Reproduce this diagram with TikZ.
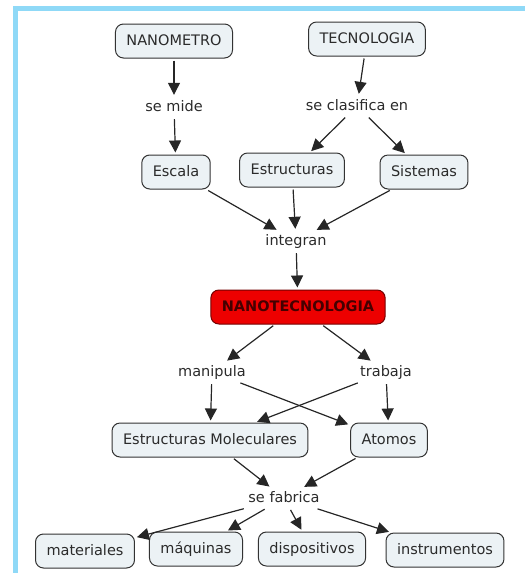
\documentclass[tikz,border=0pt]{standalone}
\usepackage{fontspec}
\setmainfont{DejaVu Sans}
\usepackage{tikz}
\usetikzlibrary{arrows.meta}
\definecolor{frameblue}{rgb}{0.56,0.85,0.97}
\definecolor{boxfill}{rgb}{0.925,0.95,0.96}
\definecolor{boxline}{rgb}{0.2,0.2,0.2}
\definecolor{textgrey}{rgb}{0.17,0.17,0.17}
\definecolor{nanored}{rgb}{0.93,0.0,0.0}
\definecolor{darkred}{rgb}{0.45,0.0,0.0}

\begin{document}
\begin{tikzpicture}[x=1pt,y=-1pt,font=\fontsize{14.5}{17}\selectfont,text=textgrey,
  concept/.style={draw=boxline,fill=boxfill,rounded corners=8pt,line width=1pt,minimum height=34pt,inner xsep=11pt,text height=11pt,text depth=3pt},
  phrase/.style={inner sep=3pt,text height=11pt,text depth=3pt},
  arr/.style={-{Triangle[length=12pt,width=12pt]},line width=1.2pt,draw=black!85,shorten <=2pt,shorten >=2pt}]
\useasboundingbox (0,0) rectangle (525,573);
\fill[frameblue] (13,6) rectangle (525,11);
\fill[frameblue] (13,6) rectangle (18,573);
% top concepts
\node[concept] (nanometro) at (174,41) {NANOMETRO};
\node[concept] (tecnologia) at (367,39) {TECNOLOGIA};
\node[phrase] (semide) at (174,107) {se mide};
\node[phrase] (seclasifica) at (357,106) {se clasifica en};
\node[concept] (escala) at (176,172) {Escala};
\node[concept] (estructuras) at (292,170) {Estructuras};
\node[concept] (sistemas) at (424,172) {Sistemas};
\node[phrase] (integran) at (296,241) {integran};
% central concept
\node[concept,fill=nanored,draw=darkred,text=darkred!60!black,font=\fontsize{14.5}{17}\selectfont\bfseries] (nano) at (298,307) {NANOTECNOLOGIA};
\node[phrase] (manipula) at (212,372) {manipula};
\node[phrase] (trabaja) at (386,372) {trabaja};
\node[concept] (molec) at (210,440) {Estructuras Moleculares};
\node[concept] (atomos) at (389,440) {Atomos};
\node[phrase] (sefabrica) at (284,498) {se fabrica};
% bottom concepts
\node[concept] (materiales) at (85,551) {materiales};
\node[concept] (maquinas) at (196,549) {máquinas};
\node[concept] (dispositivos) at (312,549) {dispositivos};
\node[concept] (instrumentos) at (445,550) {instrumentos};
% links
\draw[arr] (nanometro) -- (semide);
\draw[arr] (semide) -- (escala);
\draw[arr] (tecnologia) -- (seclasifica);
\draw[arr] (seclasifica) -- (estructuras);
\draw[arr] (seclasifica) -- (sistemas);
\draw[arr] (escala) -- (integran);
\draw[arr] (estructuras) -- (integran);
\draw[arr] (sistemas) -- (integran);
\draw[arr] (integran) -- (nano);
\draw[arr] (nano) -- (manipula);
\draw[arr] (nano) -- (trabaja);
\draw[arr] (manipula) -- (molec);
\draw[arr] (manipula) -- (atomos);
\draw[arr] (trabaja) -- (molec);
\draw[arr] (trabaja) -- (atomos);
\draw[arr] (molec) -- (sefabrica);
\draw[arr] (atomos) -- (sefabrica);
\draw[arr] (sefabrica) -- (materiales);
\draw[arr] (sefabrica) -- (maquinas);
\draw[arr] (sefabrica) -- (dispositivos);
\draw[arr] (sefabrica) -- (instrumentos);
\end{tikzpicture}
\end{document}
